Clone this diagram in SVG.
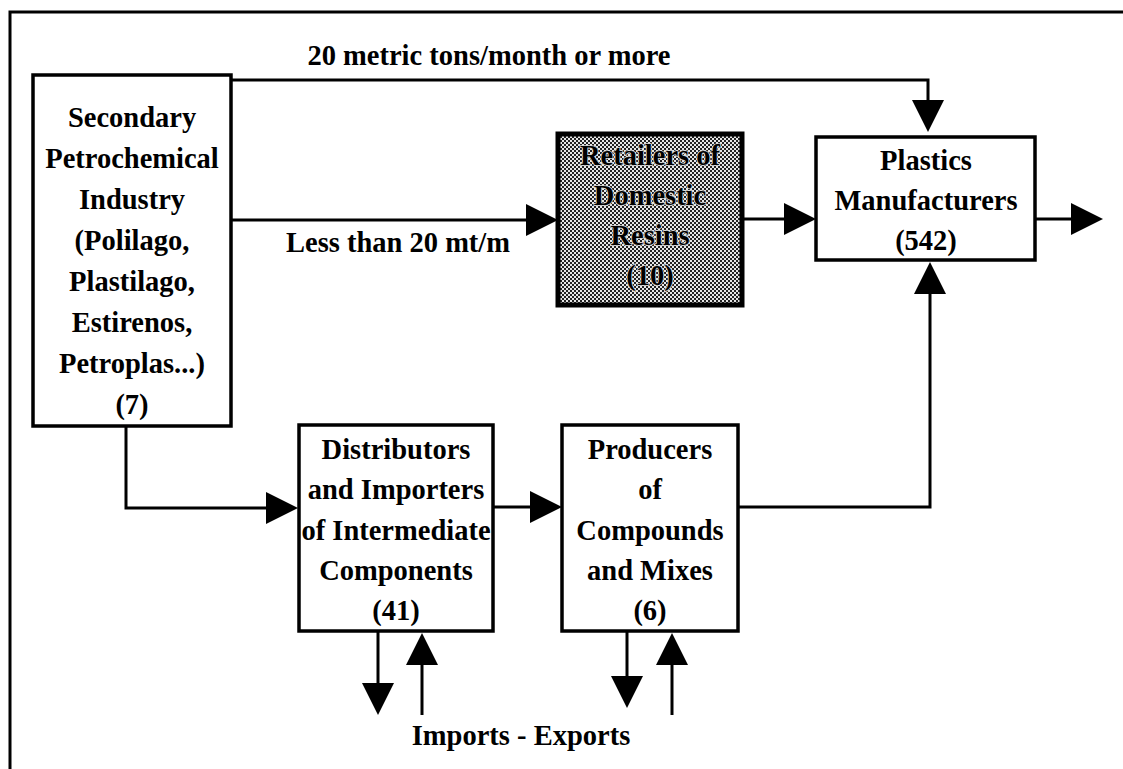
<svg xmlns="http://www.w3.org/2000/svg" width="1123" height="769" viewBox="0 0 1123 769">
<style>
  .box { fill: #ffffff; stroke: #000; stroke-width: 3.5; }
  .dark { stroke: #000; stroke-width: 5; }
  .t { font-family: "Liberation Serif", "Times New Roman", serif; font-weight: bold; font-size: 28.5px; fill: #000; text-anchor: middle; }
  .tr { fill: #000; stroke: #d8d8d8; stroke-width: 1.6; paint-order: stroke; }
  .c { fill: none; stroke: #000; stroke-width: 3; marker-end: url(#ah); }
  .frame { fill: none; stroke: #000; stroke-width: 3; }
</style>
<defs>
  <marker id="ah" markerUnits="userSpaceOnUse" viewBox="0 0 32 32" refX="22" refY="16" markerWidth="32" markerHeight="32" orient="auto">
    <path d="M0,0 L32,16 L0,32 z" fill="#000"/>
  </marker>
  <pattern id="ht" width="4" height="4" patternUnits="userSpaceOnUse">
    <rect width="4" height="4" fill="#e6e6e6"/>
    <rect x="0" y="0" width="2" height="2" fill="#222"/>
    <rect x="2" y="2" width="2" height="2" fill="#222"/>
  </pattern>
</defs>
<rect width="1123" height="769" fill="#fff"/>
<path class="frame" d="M10,769 V12 H1123"/>

<g id="connectors">
  <path class="c" d="M231,80 H928 V122"/>
  <text class="t" x="489" y="65">20 metric tons/month or more</text>
  <path class="c" d="M231,220 H548"/>
  <text class="t" x="398" y="252">Less than 20 mt/m</text>
  <path class="c" d="M742,219 H806"/>
  <path class="c" d="M1035,219 H1093"/>
  <path class="c" d="M126,426 V508 H288"/>
  <path class="c" d="M493,507 H552"/>
  <path class="c" d="M738,507 H930 V272"/>
  <path class="c" d="M378,631 V705"/>
  <path class="c" d="M422,715 V643"/>
  <path class="c" d="M627,631 V698"/>
  <path class="c" d="M672,715 V643"/>
  <text class="t" x="521" y="745">Imports - Exports</text>
</g>

<g id="secondary">
  <rect class="box" x="33" y="75" width="198" height="351"/>
  <text class="t" x="132" y="127">Secondary</text>
  <text class="t" x="132" y="168">Petrochemical</text>
  <text class="t" x="132" y="209">Industry</text>
  <text class="t" x="132" y="250">(Polilago,</text>
  <text class="t" x="132" y="291">Plastilago,</text>
  <text class="t" x="132" y="332">Estirenos,</text>
  <text class="t" x="132" y="373">Petroplas...)</text>
  <text class="t" x="132" y="414">(7)</text>
</g>

<g id="retailers">
  <rect class="dark" x="558" y="134" width="184" height="171" fill="url(#ht)"/>
  <text class="t tr" x="650" y="165">Retailers of</text>
  <text class="t tr" x="650" y="205">Domestic</text>
  <text class="t tr" x="650" y="245">Resins</text>
  <text class="t tr" x="650" y="285">(10)</text>
</g>

<g id="plastics">
  <rect class="box" x="816" y="137" width="219" height="123"/>
  <text class="t" x="926" y="170">Plastics</text>
  <text class="t" x="926" y="210">Manufacturers</text>
  <text class="t" x="926" y="250">(542)</text>
</g>

<g id="distributors">
  <rect class="box" x="299" y="425" width="194" height="206"/>
  <text class="t" x="396" y="459">Distributors</text>
  <text class="t" x="396" y="499">and Importers</text>
  <text class="t" x="396" y="540">of Intermediate</text>
  <text class="t" x="396" y="580">Components</text>
  <text class="t" x="396" y="620">(41)</text>
</g>

<g id="producers">
  <rect class="box" x="562" y="425" width="176" height="206"/>
  <text class="t" x="650" y="459">Producers</text>
  <text class="t" x="650" y="499">of</text>
  <text class="t" x="650" y="540">Compounds</text>
  <text class="t" x="650" y="580">and Mixes</text>
  <text class="t" x="650" y="620">(6)</text>
</g>
</svg>
